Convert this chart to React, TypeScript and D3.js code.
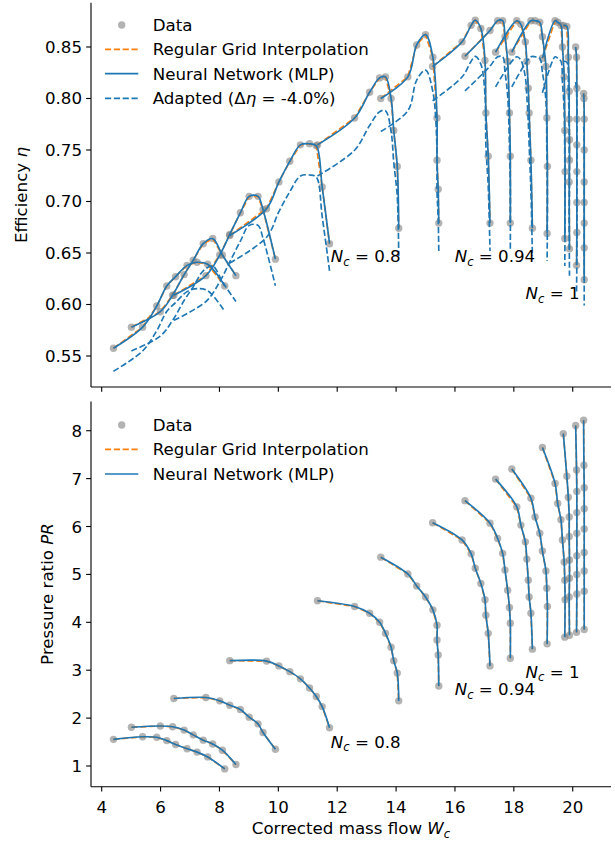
import React from 'react';
import * as d3 from 'd3';

// ---- data: one inner array per speed line (surge -> choke) ----
const massFlow: number[][] = [
  [4.40, 5.39, 5.87, 6.21, 6.51, 6.90, 7.24, 7.60, 8.18],
  [5.01, 5.99, 6.41, 6.80, 7.11, 7.45, 7.77, 8.10, 8.56],
  [6.45, 7.54, 8.01, 8.35, 8.71, 9.01, 9.31, 9.48, 9.90],
  [8.35, 9.60, 10.02, 10.39, 10.75, 11.06, 11.29, 11.49, 11.74],
  [11.33, 12.59, 13.10, 13.44, 13.64, 13.83, 13.92, 14.04, 14.09],
  [13.48, 14.40, 14.70, 15.00, 15.25, 15.39, 15.39, 15.43, 15.45],
  [15.24, 16.24, 16.55, 16.69, 16.88, 17.02, 17.05, 17.13, 17.19],
  [16.34, 17.19, 17.45, 17.62, 17.70, 17.79, 17.85, 17.88, 17.88],
  [17.38, 18.10, 18.24, 18.39, 18.44, 18.49, 18.52, 18.58, 18.63],
  [17.93, 18.58, 18.72, 18.88, 18.97, 19.09, 19.12, 19.14, 19.13],
  [18.97, 19.40, 19.49, 19.60, 19.65, 19.71, 19.73, 19.74, 19.73],
  [19.68, 19.80, 19.85, 19.88, 19.88, 19.89, 19.89, 19.88, 19.89],
  [20.10, 20.13, 20.14, 20.14, 20.14, 20.14, 20.14, 20.14, 20.13],
  [20.37, 20.38, 20.39, 20.39, 20.39, 20.39, 20.39, 20.39, 20.39],
];

const pressureRatio: number[][] = [
  [1.557, 1.61, 1.60, 1.53, 1.45, 1.36, 1.29, 1.19, 0.94],
  [1.81, 1.835, 1.82, 1.75, 1.65, 1.54, 1.46, 1.33, 1.03],
  [2.41, 2.43, 2.36, 2.27, 2.18, 2.02, 1.88, 1.70, 1.35],
  [3.20, 3.19, 3.09, 2.97, 2.82, 2.63, 2.45, 2.24, 1.80],
  [4.45, 4.33, 4.19, 4.00, 3.77, 3.48, 3.20, 2.94, 2.36],
  [5.36, 5.01, 4.76, 4.53, 4.26, 3.94, 3.63, 3.32, 2.67],
  [6.08, 5.72, 5.43, 5.13, 4.81, 4.47, 4.15, 3.77, 3.09],
  [6.54, 6.07, 5.75, 5.44, 5.09, 4.67, 4.31, 3.98, 3.25],
  [6.99, 6.41, 6.03, 5.68, 5.32, 4.88, 4.53, 4.19, 3.44],
  [7.20, 6.59, 6.20, 5.86, 5.49, 5.07, 4.71, 4.33, 3.55],
  [7.65, 6.90, 6.48, 6.14, 5.72, 5.26, 4.88, 4.47, 3.69],
  [7.94, 7.05, 6.61, 6.20, 5.79, 5.30, 4.92, 4.53, 3.73],
  [8.11, 7.18, 6.73, 6.29, 5.86, 5.39, 5.00, 4.59, 3.79],
  [8.22, 7.28, 6.81, 6.37, 5.95, 5.46, 5.07, 4.65, 3.85],
];

const efficiency: number[][] = [
  [0.5575, 0.578, 0.5985, 0.618, 0.627, 0.638, 0.641, 0.639, 0.618],
  [0.578, 0.593, 0.609, 0.629, 0.643, 0.659, 0.664, 0.648, 0.628],
  [0.609, 0.628, 0.648, 0.668, 0.689, 0.705, 0.705, 0.692, 0.644],
  [0.667, 0.693, 0.719, 0.739, 0.755, 0.756, 0.754, 0.714, 0.659],
  [0.755, 0.781, 0.806, 0.820, 0.821, 0.800, 0.769, 0.734, 0.674],
  [0.800, 0.821, 0.852, 0.862, 0.840, 0.781, 0.740, 0.712, 0.679],
  [0.831, 0.855, 0.871, 0.876, 0.868, 0.837, 0.786, 0.744, 0.679],
  [0.841, 0.866, 0.8755, 0.8755, 0.860, 0.836, 0.786, 0.744, 0.679],
  [0.845, 0.8755, 0.872, 0.855, 0.836, 0.810, 0.786, 0.740, 0.674],
  [0.845, 0.8755, 0.8755, 0.874, 0.860, 0.831, 0.781, 0.734, 0.669],
  [0.839, 0.8755, 0.874, 0.871, 0.850, 0.821, 0.769, 0.729, 0.664],
  [0.871, 0.870, 0.840, 0.807, 0.780, 0.760, 0.740, 0.719, 0.654],
  [0.850, 0.840, 0.810, 0.780, 0.755, 0.729, 0.699, 0.670, 0.638],
  [0.805, 0.800, 0.780, 0.750, 0.719, 0.699, 0.679, 0.655, 0.624],
];

const etaShift = -0.04; // adapted map: Δη = -4.0 %

const xTickValues = [4, 6, 8, 10, 12, 14, 16, 18, 20];
const etaTickValues = [0.55, 0.6, 0.65, 0.7, 0.75, 0.8, 0.85];
const prTickValues = [1, 2, 3, 4, 5, 6, 7, 8];

const speedLabelText = ['0.8', '0.94', '1'];
const speedLabelW = [11.78, 15.99, 18.4];
const speedLabelEta = [0.647, 0.647, 0.611];
const speedLabelPR = [1.507, 2.601, 2.969];

// ---- style ----
const BLUE = '#1f77b4';
const ORANGE = '#ff7f0e';
const FONT = "'DejaVu Sans', sans-serif";
const FS = 16.67;
const LW = 1.67;
const DASH = '6.17 2.67';
const TICK = 4.86;

type Pt = [number, number];

export default function App() {
  const axL = 91;
  const axR = 611;
  const top = { y0: 2.7, y1: 387 };
  const bot = { y0: 401.5, y1: 786.7 };

  const x = d3.scaleLinear().domain([3.637, 21.3]).range([axL, axR]);
  const yEta = d3.scaleLinear().domain([0.5199, 0.893]).range([top.y1, top.y0]);
  const yPR = d3.scaleLinear().domain([0.568, 8.61]).range([bot.y1, bot.y0]);

  const smooth = d3.line<Pt>().curve(d3.curveCatmullRom.alpha(0.5));
  const straight = d3.line<Pt>();

  const pts = (i: number, vals: number[][], ys: d3.ScaleLinear<number, number>, f = 1): Pt[] =>
    massFlow[i].map((w, j) => [x(w), ys(vals[i][j] * f)] as Pt);

  const panel = (
    key: string,
    vals: number[][],
    ys: d3.ScaleLinear<number, number>,
    box: { y0: number; y1: number },
    ticks: number[],
    fmt: (v: number) => string,
    adapted: boolean,
    xLabels: boolean,
    labelY: number[],
  ) => (
    <g key={key}>
      {/* data dots */}
      {massFlow.map((row, i) =>
        row.map((w, j) => (
          <circle key={`d${i}-${j}`} cx={x(w)} cy={ys(vals[i][j])} r={3.7} fill="#808080" fillOpacity={0.6} />
        )),
      )}
      {/* regular grid interpolation */}
      {massFlow.map((_, i) => (
        <path key={`r${i}`} d={straight(pts(i, vals, ys)) || ''} fill="none" stroke={ORANGE} strokeWidth={LW} strokeDasharray={DASH} />
      ))}
      {/* MLP */}
      {massFlow.map((_, i) => (
        <path key={`m${i}`} d={smooth(pts(i, vals, ys)) || ''} fill="none" stroke={BLUE} strokeWidth={LW} />
      ))}
      {/* adapted */}
      {adapted &&
        massFlow.map((_, i) => (
          <path key={`a${i}`} d={smooth(pts(i, vals, ys, 1 + etaShift)) || ''} fill="none" stroke={BLUE} strokeWidth={LW} strokeDasharray={DASH} />
        ))}
      {/* speed labels */}
      {speedLabelText.map((t, k) => (
        <text key={`s${k}`} x={x(speedLabelW[k])} y={ys(labelY[k]) + 6} fontFamily={FONT} fontSize={FS}>
          <tspan fontStyle="italic">N</tspan>
          <tspan fontStyle="italic" fontSize={FS * 0.7} dy={3.5}>c</tspan>
          <tspan dy={-3.5}>{` = ${t}`}</tspan>
        </text>
      ))}
      {/* spines */}
      <line x1={axL} x2={axL} y1={box.y0} y2={box.y1} stroke="black" strokeWidth={1.11} />
      <line x1={axL} x2={axR} y1={box.y1} y2={box.y1} stroke="black" strokeWidth={1.11} />
      {/* y ticks */}
      {ticks.map((v) => (
        <g key={`yt${v}`}>
          <line x1={axL - TICK} x2={axL} y1={ys(v)} y2={ys(v)} stroke="black" strokeWidth={1.11} />
          <text x={axL - 9} y={ys(v) + 6} textAnchor="end" fontFamily={FONT} fontSize={FS}>
            {fmt(v)}
          </text>
        </g>
      ))}
      {/* x ticks */}
      {xTickValues.map((v) => (
        <g key={`xt${v}`}>
          <line x1={x(v)} x2={x(v)} y1={box.y1} y2={box.y1 + TICK} stroke="black" strokeWidth={1.11} />
          {xLabels && (
            <text x={x(v)} y={box.y1 + 26} textAnchor="middle" fontFamily={FONT} fontSize={FS}>
              {v}
            </text>
          )}
        </g>
      ))}
    </g>
  );

  const legend = (rows: number[], withAdapted: boolean) => (
    <g fontFamily={FONT} fontSize={FS}>
      <circle cx={121.7} cy={rows[0]} r={3.7} fill="#808080" fillOpacity={0.6} />
      <text x={152.7} y={rows[0] + 6}>Data</text>
      <line x1={105} x2={138.3} y1={rows[1]} y2={rows[1]} stroke={ORANGE} strokeWidth={LW} strokeDasharray={DASH} />
      <text x={152.7} y={rows[1] + 6}>Regular Grid Interpolation</text>
      <line x1={105} x2={138.3} y1={rows[2]} y2={rows[2]} stroke={BLUE} strokeWidth={LW} />
      <text x={152.7} y={rows[2] + 6}>Neural Network (MLP)</text>
      {withAdapted && (
        <g>
          <line x1={105} x2={138.3} y1={rows[3]} y2={rows[3]} stroke={BLUE} strokeWidth={LW} strokeDasharray={DASH} />
          <text x={152.7} y={rows[3] + 6}>
            {'Adapted (Δ'}
            <tspan fontStyle="italic">η</tspan>
            {' = -4.0%)'}
          </text>
        </g>
      )}
    </g>
  );

  return (
    <svg width={615} height={841} style={{ position: 'absolute', left: 0, top: 0, background: 'white' }}>
      <rect width={615} height={841} fill="white" />
      {panel('top', efficiency, yEta, top, etaTickValues, (v) => v.toFixed(2), true, false, speedLabelEta)}
      {panel('bot', pressureRatio, yPR, bot, prTickValues, (v) => String(v), false, true, speedLabelPR)}
      {legend([25, 49.3, 73.7, 98.3], true)}
      {legend([425, 449.3, 474], false)}
      {/* axis labels */}
      <text transform="translate(27,195) rotate(-90)" textAnchor="middle" fontFamily={FONT} fontSize={FS}>
        {'Efficiency  '}
        <tspan fontStyle="italic">η</tspan>
      </text>
      <text transform="translate(53,594) rotate(-90)" textAnchor="middle" fontFamily={FONT} fontSize={FS}>
        {'Pressure ratio  '}
        <tspan fontStyle="italic">PR</tspan>
      </text>
      <text x={351} y={834} textAnchor="middle" fontFamily={FONT} fontSize={FS}>
        {'Corrected mass flow  '}
        <tspan fontStyle="italic">W</tspan>
        <tspan fontStyle="italic" fontSize={FS * 0.7} dy={3.5}>c</tspan>
      </text>
    </svg>
  );
}
